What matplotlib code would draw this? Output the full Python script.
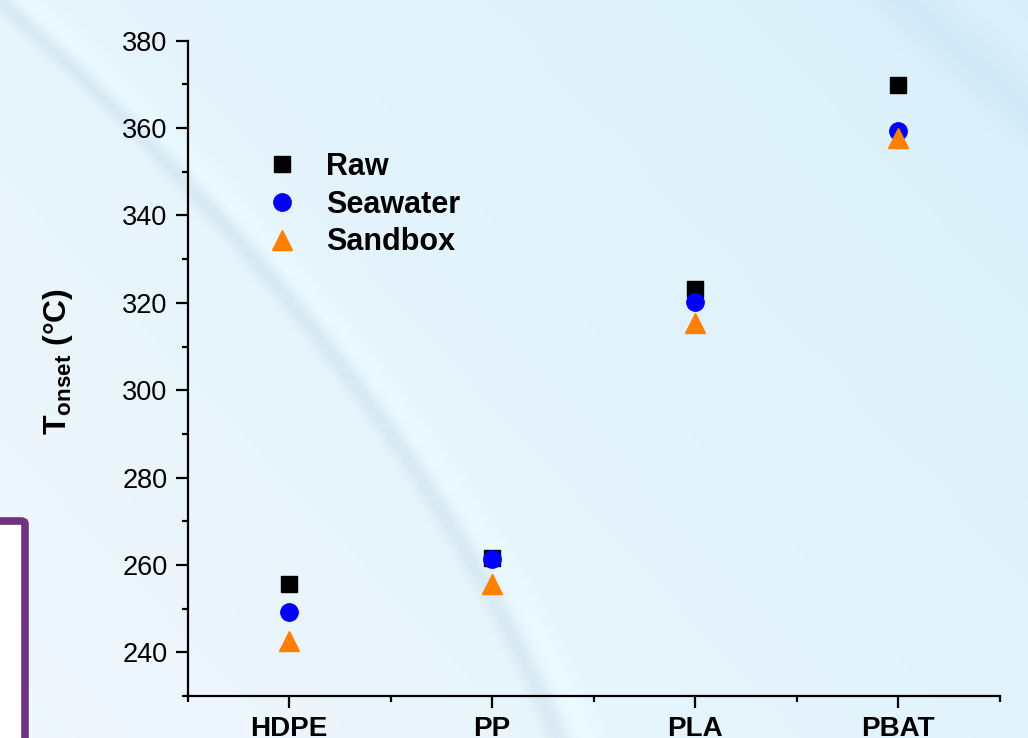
import numpy as np
import matplotlib.pyplot as plt
from matplotlib.patches import FancyBboxPatch

plt.rcParams['font.family'] = ['Liberation Sans', 'DejaVu Sans']
plt.rcParams['mathtext.fontset'] = 'custom'
plt.rcParams['mathtext.rm'] = 'Liberation Sans:bold'
plt.rcParams['mathtext.bf'] = 'Liberation Sans:bold'

polymers = ['HDPE', 'PP', 'PLA', 'PBAT']
raw = [255.6, 261.5, 323.1, 369.8]
seawater = [249.2, 261.3, 320.3, 359.3]
sandbox = [242.7, 255.6, 315.4, 357.7]

W, H = 1028, 738
fig = plt.figure(figsize=(W / 100, H / 100), dpi=100)

# background: pale blue gradient with faint blurred streaks
bg = fig.add_axes([0, 0, 1, 1])
bg.set_axis_off()
yy, xx = np.mgrid[0:H, 0:W]
t = (xx / W) * 0.6 + (1 - yy / H) * 0.4
base_a = np.array([0.94, 0.97, 0.99])
base_b = np.array([0.85, 0.94, 0.98])
img = base_a[None, None, :] * (1 - t[..., None]) + base_b[None, None, :] * t[..., None]
cx = -1 + 1.108 * yy - 0.000475 * yy ** 2
d = xx - cx
dark = np.exp(-(d / 13.0) ** 2) * 0.055
glow = np.exp(-((d - 28) / 16.0) ** 2) * 0.02
img = img - dark[..., None] * np.array([1.0, 0.75, 0.55]) + glow[..., None]
# broad band in the top right corner
d2 = ((xx - 903) * 110 - (yy - 0) * 124) / np.hypot(110, 124)
band = np.exp(-(d2 / 24.0) ** 2) * 0.04
img = img - band[..., None] * np.array([1.0, 0.6, 0.3])
bg.imshow(np.clip(img, 0, 1), extent=[0, 1, 0, 1], aspect='auto', origin='upper')
bg.set_xlim(0, 1)
bg.set_ylim(0, 1)

# purple box on the left edge
box = FancyBboxPatch((-30 / W, -40 / H), 55 / W, (738 - 521 + 40) / H,
                     boxstyle='round,pad=0,rounding_size=0.004',
                     transform=fig.transFigure, facecolor='white',
                     edgecolor='#6e3480', linewidth=5.5, clip_on=False)
fig.patches.append(box)

ax = fig.add_axes([187.7 / W, 1 - 696 / H, 811.8 / W, 655.3 / H])
ax.patch.set_alpha(0)

x = np.arange(1, len(polymers) + 1)
ax.plot(x, raw, 's', color='black', markersize=11, label='Raw')
ax.plot(x, seawater, 'o', color='#0000ff', markersize=12.5, label='Seawater')
ax.plot(x, sandbox, '^', color='#ff8000', markersize=14, label='Sandbox')

ax.set_xlim(0.5, 4.5)
ax.set_ylim(230, 380)
ax.set_xticks(x)
ax.set_xticklabels(polymers, fontsize=20, fontweight='bold')
ax.set_xticks(np.arange(0.5, 4.6, 1), minor=True)
ax.set_yticks(np.arange(240, 381, 20))
ax.set_yticks(np.arange(230, 381, 10), minor=True)
ax.tick_params(axis='y', labelsize=19.5)
ax.tick_params(which='major', direction='out', length=8.5, width=1.6, pad=6)
ax.tick_params(which='minor', direction='out', length=4.5, width=1.6)
ax.spines['top'].set_visible(False)
ax.spines['right'].set_visible(False)
for s in ['left', 'bottom']:
    ax.spines[s].set_linewidth(1.6)

ax.set_ylabel(r'$\mathbf{T}_{\mathbf{onset}}$ (°C)', fontsize=23, fontweight='bold')
ax.yaxis.set_label_coords(-0.139, 0.51)

ax.legend(loc='upper left', bbox_to_anchor=(267 / W, 1 - 152 / H),
          bbox_transform=fig.transFigure, frameon=False,
          prop={'size': 22, 'weight': 'bold'}, handlelength=1.0,
          handletextpad=0.93, labelspacing=0.25, borderpad=0, borderaxespad=0)

fig.savefig('out.png', dpi=100)
